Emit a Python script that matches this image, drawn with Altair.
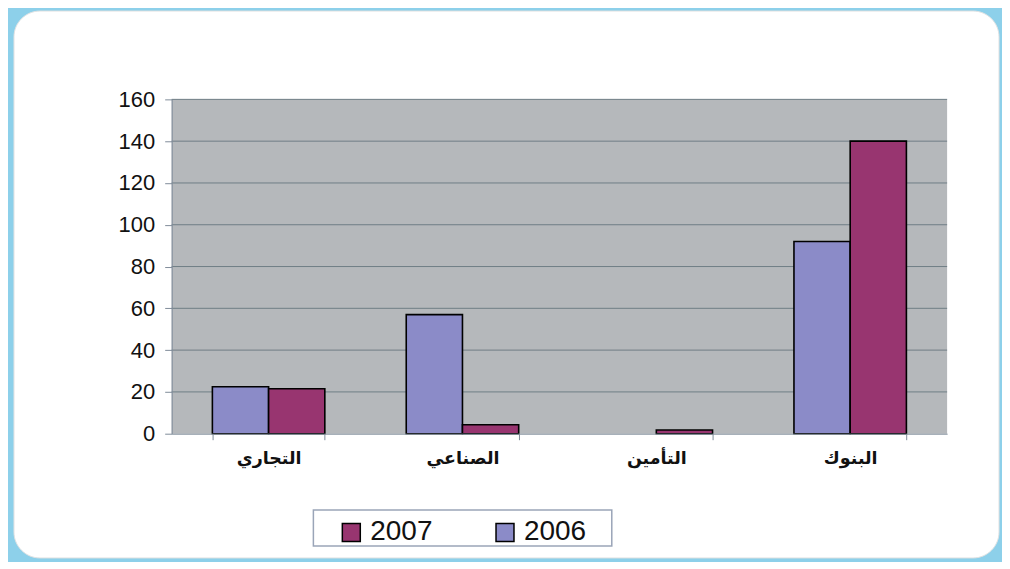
import altair as alt
import pandas as pd

categories = ["التجاري", "الصناعي", "التأمين", "البنوك"]
years = ["2006", "2007"]
values_2006 = [22.5, 57, 0, 92]
values_2007 = [21.5, 4.3, 1.8, 140]
y_ticks = [0, 20, 40, 60, 80, 100, 120, 140, 160]

rows = []
for c, a, b in zip(categories, values_2006, values_2007):
    rows.append({"cat": c, "year": "2006", "value": a})
    rows.append({"cat": c, "year": "2007", "value": b})
df = pd.DataFrame(rows)
grid_df = pd.DataFrame({"value": y_ticks[1:]})
one = pd.DataFrame({"a": [0]})

W, H = 777, 335
C2006 = "#8b8bc8"
C2007 = "#983570"

yscale = alt.Scale(domain=[0, 160], nice=False, zero=True)

frame = alt.Chart(one).mark_rect(
    fill="white", cornerRadius=26, stroke="#e2e2e2", strokeWidth=1
).encode(
    x=alt.value(-158), x2=alt.value(829), y=alt.value(-88.5), y2=alt.value(459.5)
)

plotbg = alt.Chart(one).mark_rect(fill="#b5b8bb").encode(
    x=alt.value(0), x2=alt.value(W), y=alt.value(0), y2=alt.value(H)
)

grid = alt.Chart(grid_df).mark_rule(color="#6f7d86", strokeWidth=1).encode(
    y=alt.Y("value:Q", scale=yscale)
)

legend_box = alt.Chart(one).mark_rect(
    fill="white", stroke="#9aa5b8", strokeWidth=1.5
).encode(
    x=alt.value(142), x2=alt.value(441), y=alt.value(411.5), y2=alt.value(447.5)
)

bars = alt.Chart(df).transform_filter("datum.value > 0").mark_bar(
    stroke="black", strokeWidth=1.6
).encode(
    x=alt.X(
        "cat:N",
        sort=categories,
        scale=alt.Scale(domain=categories, paddingInner=0.42, paddingOuter=0.21),
        axis=alt.Axis(
            title=None, labelAngle=0, tickBand="extent", labelFont="DejaVu Sans",
            labelFontWeight="bold", labelFontSize=17.5, labelColor="#111111",
            labelPadding=10, tickSize=6, tickColor="#7f8c99", domainColor="#7f8c99",
            zindex=1,
        ),
    ),
    xOffset=alt.XOffset("year:N", sort=years,
                        scale=alt.Scale(domain=years, paddingInner=0, paddingOuter=0)),
    y=alt.Y(
        "value:Q",
        scale=yscale,
        axis=alt.Axis(
            title=None, values=y_ticks, grid=False, labelFont="Liberation Sans",
            labelFontSize=22, labelColor="#111111", tickSize=7, labelPadding=10,
            tickColor="#7f8c99", domainColor="#7f8c99", zindex=1,
        ),
    ),
    color=alt.Color(
        "year:N",
        scale=alt.Scale(domain=["2007", "2006"], range=[C2007, C2006]),
        legend=alt.Legend(
            title=None, orient="none", legendX=166, legendY=420, direction="horizontal",
            symbolType="square", symbolSize=324, symbolStrokeColor="black",
            symbolStrokeWidth=1.5, labelFont="Liberation Sans", labelFontSize=28,
            labelColor="#111111", labelOffset=5, columnPadding=58, padding=0,
        ),
    ),
)

chart = alt.layer(frame, plotbg, grid, legend_box, bars).properties(
    width=W, height=H,
    background="#8dd0ea",
    padding={"left": 5, "top": 2, "right": 2, "bottom": 3},
).configure_view(stroke="#7f8c99", strokeWidth=1)

chart.save("out.html", embed_options={"renderer": "svg", "actions": False})
